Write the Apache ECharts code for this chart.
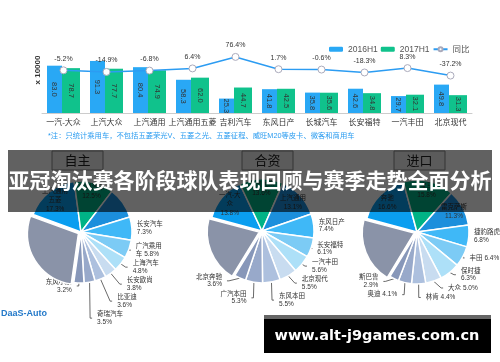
<!DOCTYPE html>
<html>
<head>
<meta charset="utf-8">
<script src="https://cdn.jsdelivr.net/npm/echarts@6/dist/echarts.min.js"></script>
<style>
html, body { margin: 0; padding: 0; background: #fff; }
#main { width: 500px; height: 362px; }
</style>
</head>
<body>
<div id="main"></div>
<script>
// 上半部分：销量对比（万辆）
var brands = ['一汽-大众', '上汽大众', '上汽通用', '上汽通用五菱', '吉利汽车', '东风日产', '长城汽车', '长安福特', '一汽丰田', '北京现代'];
var sales2016 = [83.0, 91.3, 80.4, 58.3, 25.3, 41.8, 35.8, 42.6, 29.7, 49.8];
var sales2017 = [78.7, 77.7, 74.9, 62.0, 44.7, 42.5, 35.6, 34.8, 32.1, 31.3];
var yoy = [-5.2, -14.9, -6.8, 6.4, 76.4, 1.7, -0.6, -18.3, 8.3, -37.2];

// 下半部分：三个饼图
var ownNames = ['上汽通用五菱', '吉利汽车', '长城汽车', '长安汽车', '广汽乘用车', '上海汽车', '长安欧尚', '比亚迪', '奇瑞汽车', '东风小康', '其他'];
var ownShares = [17.3, 12.5, 9.9, 7.3, 5.8, 4.8, 3.8, 3.6, 3.5, 3.2, 28.3];
var jvNames = ['一汽-大众', '上汽大众', '上汽通用', '东风日产', '长安福特', '一汽丰田', '北京现代', '东风本田', '广汽本田', '北京奔驰', '其他'];
var jvShares = [13.8, 13.6, 13.1, 7.4, 6.1, 5.6, 5.5, 5.5, 5.3, 3.6, 20.4];
var impNames = ['奔驰', '宝马', '雷克萨斯', '捷豹路虎', '丰田', '保时捷', '大众', '林肯', '奥迪', '斯巴鲁', '其他'];
var impShares = [16.6, 15.8, 11.3, 6.8, 6.4, 6.3, 5.0, 4.4, 4.1, 2.9, 20.5];

var pieColors = ['#0a9ef0', '#00b386', '#1c8fdc', '#3fb8f7', '#7ccbf5', '#ade0f8', '#c8dcf0', '#adc0de', '#98a9ca', '#8797b9', '#8a93a8'];
var font = '"Liberation Sans", "Noto Sans CJK SC", sans-serif';

var chart = echarts.init(document.getElementById('main'));

// 饼图标签：名字太长就折行
function pieText(name, v, inside) {
    var s = v.toFixed(1) + '%';
    if (inside) {
        if (name.length > 4) return name.slice(0, 4) + '\n' + name.slice(4) + '\n' + s;
        return name + '\n' + s;
    }
    if (name.length > 4) return name.slice(0, 4) + '\n' + name.slice(4) + ' ' + s;
    if (name.length <= 2) return name + ' ' + s;
    return name + '\n' + s;
}

function isBig(i, n) {
    return i < 3 || i === n - 1;
}

// 画扇形，小块的标签放外面；“其他”稍微拉开一点
function pieSeries(names, shares, center, r, start) {
    return {
        type: 'pie',
        center: center,
        radius: r,
        startAngle: start,
        selectedMode: 'single',
        selectedOffset: 3,
        avoidLabelOverlap: true,
        labelLayout: { hideOverlap: false },
        itemStyle: { borderColor: '#fff', borderWidth: 1.5 },
        label: { fontSize: 6.5, color: '#333', lineHeight: 7.5, fontFamily: font, overflow: 'none' },
        labelLine: { length: 3, length2: 2, lineStyle: { color: '#444', width: 0.8 } },
        data: names.map(function (n, i) {
            var big = isBig(i, names.length);
            return {
                name: n,
                value: shares[i],
                selected: i === names.length - 1,
                itemStyle: { color: pieColors[i] },
                select: { itemStyle: { color: pieColors[i], borderColor: '#fff', borderWidth: 1.5 } },
                label: { show: !big, formatter: pieText(n, shares[i], false) },
                labelLine: { show: !big }
            };
        })
    };
}

// 透明的一圈，只用来放大块里面的标签
function pieInnerLabels(names, shares, center, r, start) {
    return {
        type: 'pie',
        center: center,
        radius: [r * 0.5, r],
        startAngle: start,
        silent: true,
        avoidLabelOverlap: false,
        itemStyle: { color: 'rgba(0,0,0,0)' },
        label: { position: 'inside', fontSize: 6.5, color: '#333', lineHeight: 9, fontFamily: font },
        labelLine: { show: false },
        data: names.map(function (n, i) {
            var big = isBig(i, names.length);
            return {
                name: n,
                value: shares[i],
                label: { show: big, formatter: pieText(n, shares[i], true) }
            };
        })
    };
}

function box(x, text) {
    return {
        type: 'group',
        z: 50,
        children: [
            { type: 'rect', shape: { x: x, y: 151, width: 51, height: 19 }, style: { fill: '#eeeeee', stroke: '#888', lineWidth: 1 }, z: 50 },
            { type: 'text', x: x + 25.5, y: 160.5, style: { text: text, fontSize: 13, fill: '#222', align: 'center', verticalAlign: 'middle', fontFamily: '"Noto Sans CJK SC"' }, z: 51 }
        ]
    };
}

var option = {
    animation: false,
    textStyle: { fontFamily: font },
    legend: {
        data: ['2016H1', '2017H1', '同比'],
        left: 324,
        top: 40,
        itemWidth: 14,
        itemHeight: 5,
        itemGap: 3,
        textStyle: { fontSize: 8.5, color: '#555' }
    },
    grid: { left: 42, right: 28, top: 56, bottom: 249, containLabel: false, outerBoundsMode: 'none' },
    xAxis: {
        type: 'category',
        gridIndex: 0,
        position: 'bottom',
        data: brands,
        axisLine: { show: true, onZero: false, lineStyle: { color: '#ccc' } },
        axisTick: { show: false },
        axisLabel: { fontSize: 8, color: '#333', margin: 6, interval: 0 }
    },
    yAxis: [
        { type: 'value', gridIndex: 0, min: 0, max: 100, show: false },
        { type: 'value', gridIndex: 0, min: -265, max: 82, show: false }
    ],
    series: [
        {
            name: '2016H1',
            type: 'bar',
            data: sales2016,
            barWidth: 15,
            barGap: '0%',
            itemStyle: { color: '#29a8f5' },
            label: { show: true, position: 'inside', rotate: -90, fontSize: 7.5, color: '#333',
                formatter: function (p) { return p.value.toFixed(1); } }
        },
        {
            name: '2017H1',
            type: 'bar',
            data: sales2017,
            barWidth: 18,
            barGap: '0%',
            itemStyle: { color: '#10c28c' },
            label: { show: true, position: 'inside', rotate: -90, fontSize: 7.5, color: '#333',
                formatter: function (p) { return p.value.toFixed(1); } }
        },
        {
            name: '同比',
            type: 'line',
            yAxisIndex: 1,
            data: yoy,
            z: 5,
            symbol: 'circle',
            symbolSize: 7,
            itemStyle: { color: '#fff', borderColor: '#aab', borderWidth: 1 },
            lineStyle: { color: '#2c9cf2', width: 1.5 },
            label: { show: true, position: 'top', distance: 4, fontSize: 7, color: '#333',
                formatter: function (p) { return p.value.toFixed(1) + '%'; } }
        },
        pieSeries(ownNames, ownShares, [81, 232], 51, 160),
        pieInnerLabels(ownNames, ownShares, [81, 232], 51, 160),
        pieSeries(jvNames, jvShares, [262, 231], 52, 165),
        pieInnerLabels(jvNames, jvShares, [262, 231], 52, 165),
        pieSeries(impNames, impShares, [417, 232], 52, 165),
        pieInnerLabels(impNames, impShares, [417, 232], 52, 165)
    ],
    graphic: [
        { type: 'text', x: 38, y: 70, rotation: Math.PI / 2,
          style: { text: 'x 10000', fontSize: 8, fontWeight: 'bold', fill: '#333', align: 'center', verticalAlign: 'middle' } },
        { type: 'text', x: 48, y: 136,
          style: { text: '*注：只统计乘用车，不包括五菱荣光V、五菱之光、五菱征程、威旺M20等皮卡、微客和商用车',
                   fontSize: 7.3, fill: '#2b9cf0', verticalAlign: 'middle', fontFamily: font } },
        box(52, '自主'),
        box(242, '合资'),
        box(394, '进口'),
        { type: 'rect', z: 100, shape: { x: 8, y: 150, width: 484, height: 62 }, style: { fill: 'rgba(0,0,0,0.62)' } },
        { type: 'text', z: 101, x: 250, y: 180,
          style: { text: '亚冠淘汰赛各阶段球队表现回顾与赛季走势全面分析', fontSize: 21, fontWeight: 'bold', fill: '#fff',
                   align: 'center', verticalAlign: 'middle', fontFamily: '"Noto Sans CJK SC"' } },
        { type: 'text', z: 20, x: 1, y: 314,
          style: { text: 'DaaS-Auto', fontSize: 9, fontWeight: 'bold', fill: '#2379c9', verticalAlign: 'middle', fontFamily: font } },
        { type: 'rect', z: 100, shape: { x: 264, y: 315, width: 227, height: 38 }, style: { fill: '#000' } },
        { type: 'rect', z: 101, shape: { x: 264, y: 315, width: 227, height: 4 }, style: { fill: '#666' } },
        { type: 'text', z: 102, x: 377, y: 336,
          style: { text: 'www.alt-j9games.com.cn', fontSize: 14.5, fontWeight: 'bold', fill: '#fff',
                   align: 'center', verticalAlign: 'middle', fontFamily: '"DejaVu Sans"' } }
    ]
};

chart.setOption(option);
</script>
</body>
</html>
